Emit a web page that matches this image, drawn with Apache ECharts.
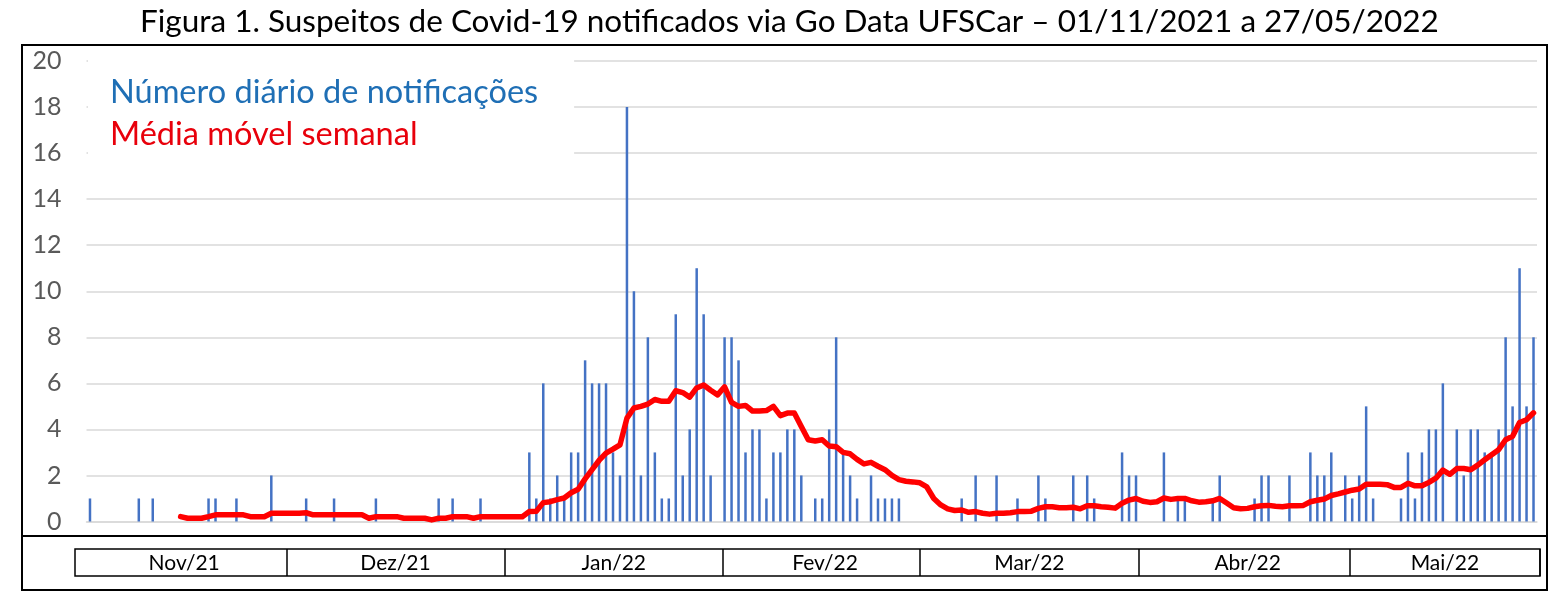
<!DOCTYPE html>
<html>
<head>
<meta charset="utf-8">
<script src="https://cdn.jsdelivr.net/npm/echarts@6/dist/echarts.min.js"></script>
<style>
html,body{margin:0;padding:0;background:#fff;}
#chart{width:1557px;height:609px;}
</style>
</head>
<body>
<div id="chart"></div>
<script>
// ---------- data ----------
const titleText = 'Figura 1. Suspeitos de Covid-19 notificados via Go Data UFSCar – 01/11/2021 a 27/05/2022';
const seriesNames = ['Número diário de notificações', 'Média móvel semanal'];
const startDate = '2021-11-01';
const monthLabels = ['Nov/21', 'Dez/21', 'Jan/22', 'Fev/22', 'Mar/22', 'Abr/22', 'Mai/22'];

// daily notifications, 01/11/2021 .. 27/05/2022 (208 days)
const dailyNotifications = [
  1,0,0,0,0,0,0,1,0,1,
  0,0,0,0,0,0,0,1,1,0,
  0,1,0,0,0,0,2,0,0,0,
  0,1,0,0,0,1,0,0,0,0,
  0,1,0,0,0,0,0,0,0,0,
  1,0,1,0,0,0,1,0,0,0,
  0,0,0,3,1,6,1,2,1,3,
  3,7,6,6,6,3,2,18,10,2,
  8,3,1,1,9,2,4,11,9,2,
  0,8,8,7,3,4,4,1,3,3,
  4,4,2,0,1,1,4,8,3,2,
  1,0,2,1,1,1,1,0,0,0,
  0,0,0,0,0,1,0,2,0,0,
  2,0,0,1,0,0,2,1,0,0,
  0,2,0,2,1,0,0,0,3,2,
  2,0,0,0,3,0,1,1,0,0,
  0,1,2,0,0,0,0,1,2,2,
  0,0,2,0,0,3,2,2,3,0,
  2,1,2,5,1,0,0,0,1,3,
  1,3,4,4,6,0,4,2,4,4,
  3,3,4,8,5,11,5,8
];

// moving average line
const movingAverage = [
  null,null,null,null,null,null,null,null,null,null,
  null,null,null,0.21,0.14,0.14,0.14,0.21,0.29,0.29,
  0.29,0.29,0.29,0.21,0.21,0.21,0.36,0.36,0.36,0.36,
  0.36,0.38,0.29,0.29,0.29,0.29,0.29,0.29,0.29,0.29,
  0.14,0.21,0.21,0.21,0.21,0.14,0.14,0.14,0.14,0.07,
  0.14,0.14,0.21,0.21,0.21,0.14,0.21,0.21,0.21,0.21,
  0.21,0.21,0.21,0.43,0.45,0.82,0.86,0.95,1.02,1.25,
  1.40,1.85,2.25,2.65,2.97,3.14,3.33,4.49,4.93,5.00,
  5.10,5.30,5.22,5.22,5.68,5.60,5.40,5.80,5.93,5.70,
  5.50,5.85,5.17,5.00,5.04,4.80,4.80,4.82,5.00,4.60,
  4.71,4.71,4.13,3.55,3.50,3.55,3.28,3.25,3.00,2.94,
  2.70,2.50,2.57,2.40,2.25,2.00,1.82,1.75,1.72,1.68,
  1.50,1.00,0.72,0.55,0.48,0.50,0.40,0.43,0.36,0.32,
  0.36,0.36,0.38,0.43,0.43,0.45,0.57,0.64,0.64,0.60,
  0.60,0.62,0.55,0.68,0.68,0.64,0.62,0.58,0.79,0.93,
  1.00,0.88,0.83,0.86,1.02,0.96,1.00,1.00,0.90,0.84,
  0.86,0.90,1.00,0.80,0.60,0.55,0.57,0.64,0.68,0.70,
  0.66,0.64,0.68,0.68,0.70,0.86,0.92,0.98,1.13,1.20,
  1.28,1.36,1.41,1.62,1.62,1.62,1.60,1.48,1.48,1.66,
  1.55,1.55,1.70,1.88,2.23,2.05,2.30,2.30,2.25,2.45,
  2.68,2.90,3.12,3.55,3.70,4.30,4.42,4.72
];

// ---------- categories (calendar days) ----------
const days = [];
{
  const t0 = Date.parse(startDate + 'T00:00:00Z');
  for (let i = 0; i < dailyNotifications.length; i++) {
    days.push(new Date(t0 + i * 86400000).toISOString().slice(0, 10));
  }
}
const monthStarts = [];
days.forEach((d, i) => { if (d.slice(8, 10) === '01') monthStarts.push(i); });
const monthStartSet = new Set(monthStarts.filter(i => i > 0));
const monthMid = new Map();
monthStarts.forEach((s, k) => {
  const e = k + 1 < monthStarts.length ? monthStarts[k + 1] : days.length;
  monthMid.set(Math.round((s + e - 1) / 2), monthLabels[k]);
});

const FONT = 'Lato';
const chart = echarts.init(document.getElementById('chart'), null, {renderer: 'canvas'});
chart.setOption({
  animation: false,
  backgroundColor: '#ffffff',
  textStyle: {fontFamily: FONT},
  title: {
    text: titleText,
    left: 135, top: 1,
    textStyle: {fontFamily: FONT, fontSize: 31.5, fontWeight: 'normal', color: '#000'}
  },
  legend: {
    orient: 'vertical',
    left: 88, top: 55,
    selectedMode: false,
    icon: 'rect', itemWidth: 0, itemHeight: 0,
    itemGap: 6,
    padding: [20, 36, 10, 17],
    backgroundColor: '#ffffff',
    z: 5,
    textStyle: {fontFamily: FONT, fontSize: 32.5, lineHeight: 36},
    data: [
      {name: seriesNames[0], textStyle: {color: '#1F6FB5'}},
      {name: seriesNames[1], textStyle: {color: '#E8000B'}}
    ]
  },
  grid: [
    {left: 86.5, top: 61, width: 1450.5, height: 460.5},
    {left: 75, top: 549, width: 1465, height: 27, show: true, borderColor: '#000', borderWidth: 1.5, backgroundColor: 'transparent'}
  ],
  xAxis: [
    {
      type: 'category', gridIndex: 0, data: days, boundaryGap: true,
      axisLine: {show: true, lineStyle: {color: '#d9d9d9', width: 1.5}},
      axisTick: {show: false}, axisLabel: {show: false}, splitLine: {show: false}
    },
    {
      type: 'category', gridIndex: 1, data: days, boundaryGap: true,
      axisLine: {show: false}, axisTick: {show: false},
      splitLine: {show: true, interval: (i) => monthStartSet.has(i), lineStyle: {color: '#000', width: 1.5}},
      axisLabel: {
        show: true, interval: (i) => monthMid.has(i),
        formatter: (v, i) => monthMid.get(i) || '',
        margin: -13, verticalAlign: 'middle',
        fontFamily: FONT, fontSize: 21, color: '#000'
      }
    }
  ],
  yAxis: [
    {
      type: 'value', gridIndex: 0, min: 0, max: 20, interval: 2,
      axisLine: {show: false}, axisTick: {show: false},
      axisLabel: {fontFamily: FONT, fontSize: 25, color: '#595959', margin: 25},
      splitLine: {show: true, lineStyle: {color: '#d9d9d9', width: 1.5}}
    },
    {type: 'value', gridIndex: 1, min: 0, max: 1, show: false}
  ],
  series: [
    {
      name: seriesNames[0], type: 'bar', xAxisIndex: 0, yAxisIndex: 0,
      data: dailyNotifications, barWidth: 2.5,
      itemStyle: {color: '#4472C4'}
    },
    {
      name: seriesNames[1], type: 'line', xAxisIndex: 0, yAxisIndex: 0,
      data: movingAverage, symbol: 'none', smooth: false,
      lineStyle: {color: '#FF0000', width: 5.5, join: 'round', cap: 'round'},
      itemStyle: {color: '#FF0000'}
    }
  ],
  graphic: [
    {type: 'rect', shape: {x: 22, y: 45, width: 1525, height: 545}, style: {fill: 'none', stroke: '#000', lineWidth: 2}, z: 10},
    {type: 'line', shape: {x1: 22, y1: 536, x2: 1547, y2: 536}, style: {stroke: '#000', lineWidth: 2}, z: 10}
  ]
});
</script>
</body>
</html>
